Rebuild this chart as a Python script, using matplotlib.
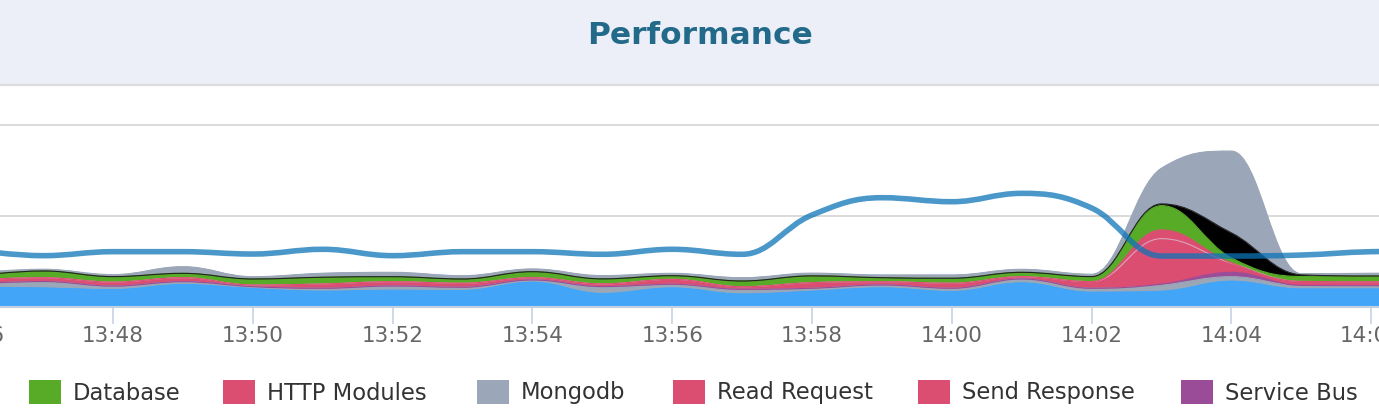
import matplotlib
matplotlib.use('Agg')
import matplotlib.pyplot as plt
import numpy as np
from matplotlib.path import Path
from matplotlib.patches import PathPatch, Rectangle
from matplotlib.lines import Line2D
from matplotlib.ticker import FuncFormatter

# one point per minute, 13:46 .. 14:07 (stacked areas, bottom to top)
times = ['13:46', '13:47', '13:48', '13:49', '13:50', '13:51', '13:52', '13:53',
         '13:54', '13:55', '13:56', '13:57', '13:58', '13:59', '14:00', '14:01',
         '14:02', '14:03', '14:04', '14:05', '14:06', '14:07']

web = [0.231, 0.223, 0.205, 0.260, 0.216, 0.187, 0.198, 0.195, 0.286, 0.162, 0.223,
       0.157, 0.187, 0.223, 0.184, 0.278, 0.176, 0.187, 0.297, 0.212, 0.212, 0.209]
other = [0.022, 0.057, 0.025, 0.018, 0.007, 0.019, 0.033, 0.022, 0.011, 0.062, 0.026,
         0.037, 0.019, 0.019, 0.022, 0.030, 0.030, 0.055, 0.036, 0.022, 0.022, 0.022]
service_bus = [0, 0, 0, 0, 0, 0, 0, 0, 0, 0, 0,
               0, 0, 0, 0, 0, 0, 0.009, 0.048, 0.003, 0, 0]
read_request = [0.044, 0.042, 0.044, 0.044, 0.019, 0.047, 0.047, 0.044, 0.025, 0.030, 0.055,
                0.029, 0.062, 0.036, 0.055, 0.025, 0.073, 0.500, 0.101, 0.044, 0.044, 0.044]
send_response = [0, 0, 0, 0, 0, 0, 0, 0, 0, 0, 0,
                 0, 0, 0, 0, 0, 0, 0.096, 0.003, 0, 0, 0]
database = [0.044, 0.074, 0.060, 0.048, 0.066, 0.074, 0.055, 0.047, 0.066, 0.055, 0.040,
            0.063, 0.074, 0.044, 0.055, 0.048, 0.055, 0.267, 0.055, 0.055, 0.063, 0.066]
external = [0, 0, 0, 0, 0, 0, 0, 0, 0, 0, 0,
            0, 0, 0, 0, 0, 0, 0.019, 0.275, 0.019, 0, 0]
mongodb = [0.033, 0.019, 0.022, 0.073, 0.025, 0.044, 0.048, 0.036, 0.030, 0.036, 0.026,
           0.036, 0.030, 0.030, 0.036, 0.033, 0.026, 0.392, 0.898, 0.011, 0.030, 0.033]

# line series
response_time = [0.626, 0.564, 0.608, 0.608, 0.582, 0.634, 0.564, 0.608, 0.608, 0.579, 0.634,
                 0.579, 1.011, 1.201, 1.157, 1.249, 1.088, 0.560, 0.560, 0.571, 0.608, 0.615]

legend_labels = ['Database', 'HTTP Modules', 'Mongodb', 'Read Request', 'Send Response', 'Service Bus']
legend_colors = ['#58ab27', '#dc4d72', '#9ba7b8', '#dc4d72', '#dc4d72', '#9b4c98']


def to_min(s):
    h, m = s.split(':')
    return (int(h) - 13) * 60 + int(m)


def spline_ctrl(xs, ys):
    # highcharts-like spline control points
    n = len(xs)
    left = np.zeros((n, 2))
    right = np.zeros((n, 2))
    for i in range(n):
        x, y = xs[i], ys[i]
        if i == 0 or i == n - 1:
            left[i] = (x, y)
            right[i] = (x, y)
            continue
        px, py = xs[i - 1], ys[i - 1]
        nx, ny = xs[i + 1], ys[i + 1]
        lcx, lcy = (1.5 * x + px) / 2.5, (1.5 * y + py) / 2.5
        rcx, rcy = (1.5 * x + nx) / 2.5, (1.5 * y + ny) / 2.5
        corr = (rcy - lcy) * (rcx - x) / (rcx - lcx) + y - rcy
        lcy += corr
        rcy += corr
        if lcy > py and lcy > y:
            lcy = max(py, y)
            rcy = 2 * y - lcy
        elif lcy < py and lcy < y:
            lcy = min(py, y)
            rcy = 2 * y - lcy
        if rcy > ny and rcy > y:
            rcy = max(ny, y)
            lcy = 2 * y - rcy
        elif rcy < ny and rcy < y:
            rcy = min(ny, y)
            lcy = 2 * y - rcy
        left[i] = (lcx, lcy)
        right[i] = (rcx, rcy)
    return left, right


def fwd(xs, ys):
    L, R = spline_ctrl(xs, ys)
    v = []
    for i in range(1, len(xs)):
        v += [tuple(R[i - 1]), tuple(L[i]), (xs[i], ys[i])]
    return v


def rev(xs, ys):
    L, R = spline_ctrl(xs, ys)
    v = []
    for i in range(len(xs) - 1, 0, -1):
        v += [tuple(L[i]), tuple(R[i - 1]), (xs[i - 1], ys[i - 1])]
    return v


def area_path(xs, lo, hi):
    seg = 3 * (len(xs) - 1)
    verts = [(xs[0], hi[0])] + fwd(xs, hi) + [(xs[-1], lo[-1])] + rev(xs, lo) + [(xs[0], hi[0])]
    codes = [Path.MOVETO] + [Path.CURVE4] * seg + [Path.LINETO] + [Path.CURVE4] * seg + [Path.CLOSEPOLY]
    return Path(verts, codes)


def line_path(xs, ys):
    verts = [(xs[0], ys[0])] + fwd(xs, ys)
    codes = [Path.MOVETO] + [Path.CURVE4] * (3 * (len(xs) - 1))
    return Path(verts, codes)


W, H = 1379, 420
fig = plt.figure(figsize=(W / 100, H / 100), dpi=100)
fig.patch.set_facecolor('white')

# header band
fig.add_artist(Rectangle((0, 1 - 84 / H), 1, 84 / H, transform=fig.transFigure,
                         facecolor='#eceff7', edgecolor='none', zorder=0))
fig.add_artist(Line2D([0, 1], [1 - 85 / H, 1 - 85 / H], transform=fig.transFigure,
                      color='#dcdcdc', lw=1.6, zorder=1))
fig.text(700 / W, 1 - 36 / H, 'Performance', ha='center', va='center', fontsize=22.5,
         fontweight='bold', color='#236a8a', family='DejaVu Sans')

ax = fig.add_axes([0, 113 / H, 1, 222 / H])
ax.set_facecolor('none')

x = np.array([to_min(t) for t in times], dtype=float)
layers = [(web, '#42a5f8'), (other, '#9ba7b6'), (service_bus, '#9b4c98'),
          (read_request, '#dc4d72'), (send_response, '#dc4d72'),
          (database, '#58ab27'), (external, '#000000'), (mongodb, '#9ba7b8')]

base = np.zeros(len(x))
tops = []
for vals, col in layers:
    top = base + np.array(vals)
    ax.add_patch(PathPatch(area_path(x, base, top), facecolor=col, edgecolor=col,
                           lw=0.3, zorder=2))
    tops.append((top, col))
    base = top

# series lines on top of the fills
line_cols = ['#9ba7b6', '#9ba7b6', '#9b4c98', '#d9a3b8', '#dc4d72', '#58ab27', '#222222', '#9ba7b8']
for (top, _), lc in zip(tops, line_cols):
    ax.add_patch(PathPatch(line_path(x, top), fill=False, edgecolor=lc, lw=0.8, zorder=3))

ax.add_patch(PathPatch(line_path(x, np.array(response_time)), fill=False, edgecolor='#0d74b7',
                       lw=4.0, alpha=0.75, capstyle='round', joinstyle='round', zorder=5))

ax.set_xlim(46.383, 66.112)
ax.set_ylim(0, 222 / 91)

ax.set_yticks([1, 2])
ax.yaxis.grid(True, color='#d8d8d8', lw=1.3)
ax.set_axisbelow(True)
ax.tick_params(axis='y', length=0, labelleft=False)

ax.set_xticks(range(48, 67, 2))
ax.xaxis.set_major_formatter(FuncFormatter(lambda v, p: f'{13 + int(v) // 60}:{int(v) % 60:02d}'))
ax.tick_params(axis='x', length=12.5, width=1.1, color='#c0d0e0', pad=1,
               labelsize=15.5, labelcolor='#666666')
for s in ['top', 'left', 'right']:
    ax.spines[s].set_visible(False)
ax.spines['bottom'].set_color('#c0d0e0')
ax.spines['bottom'].set_linewidth(1.5)
ax.spines['bottom'].set_zorder(4)

# first label sits off the left edge
ax.annotate('13:46', xy=(46, 0), xycoords=('data', 'axes fraction'), xytext=(0, -13.5),
            textcoords='offset points', ha='center', va='top', fontsize=15.5,
            color='#666666', annotation_clip=False)

# legend
leg_x = [29, 223, 477, 673, 918, 1181]
for lx, lab, col in zip(leg_x, legend_labels, legend_colors):
    fig.add_artist(Rectangle((lx / W, 1 - 404 / H), 32 / W, 24 / H, transform=fig.transFigure,
                             facecolor=col, edgecolor='none'))
    fig.text((lx + 44) / W, 1 - 393 / H, lab, ha='left', va='center', fontsize=16.3,
             color='#333333')

fig.savefig('out.png', dpi=100, facecolor='white')
